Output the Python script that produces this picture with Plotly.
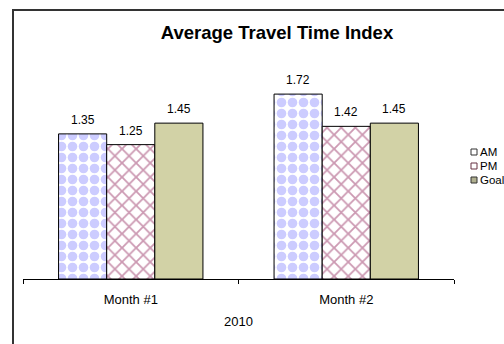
import plotly.graph_objects as go

categories = ["Month #1", "Month #2"]
am_values = [1.35, 1.72]
pm_values = [1.25, 1.42]
goal_values = [1.45, 1.45]
series_names = ["AM", "PM", "Goal"]
title_text = "Average Travel Time Index"
x_title = "2010"

W, H = 504, 344
ML, MR, MT, MB = 23, 50, 64, 65
pw = W - ML - MR
ph = H - MT - MB

FONT = "Liberation Sans, Arial, sans-serif"

series_values = [am_values, pm_values, goal_values]
markers = [
    dict(color="white", line=dict(color="black", width=1),
         pattern=dict(shape=".", fgcolor="#9999FF", bgcolor="white",
                      size=11, solidity=0.6, fillmode="overlay")),
    dict(color="white", line=dict(color="black", width=1),
         pattern=dict(shape="x", fgcolor="#993366", bgcolor="white",
                      size=10, solidity=0.33, fillmode="overlay")),
    dict(color="#D2D2A6", line=dict(color="black", width=1)),
]

fig = go.Figure()
for name, vals, mk in zip(series_names, series_values, markers):
    fig.add_trace(go.Bar(x=categories, y=vals, name=name, marker=mk, showlegend=False))

# data labels, placed through the axes above each bar
bar_px = pw / len(categories) * (1 - 0.33) / 3
for i, vals in enumerate(series_values):
    for cat, v in zip(categories, vals):
        fig.add_annotation(x=cat, y=v, text=f"{v:.2f}", showarrow=False,
                           xshift=(i - 1) * bar_px, yshift=14, yanchor="middle",
                           font=dict(family=FONT, size=12, color="black"))

# legend (drawn manually to match the compact Excel legend)
leg_y = [152, 166, 180]
leg_fill = ["white", "white", "#B0B090"]
leg_line = ["#333333", "#663344", "#333333"]
for name, yy, fc, lc in zip(series_names, leg_y, leg_fill, leg_line):
    fig.add_shape(type="rect", xref="paper", yref="paper",
                  x0=(471 - ML) / pw, x1=(477 - ML) / pw,
                  y0=(H - MB - yy - 3) / ph, y1=(H - MB - yy + 3) / ph,
                  line=dict(color=lc, width=1), fillcolor=fc)
    fig.add_annotation(xref="paper", yref="paper", x=(478 - ML) / pw, y=(H - MB - yy) / ph,
                       xanchor="left", yanchor="middle", text=name, showarrow=False,
                       font=dict(family=FONT, size=11.5, color="black"))

# outer chart border (extends past the right/bottom edges as in the reference)
fig.add_shape(type="rect", xref="paper", yref="paper",
              x0=(13 - ML) / pw, x1=(W + 40 - ML) / pw,
              y0=-(H + 40 - MT - ph) / ph, y1=(H - 10 - MB) / ph,
              line=dict(color="#333333", width=2), fillcolor="rgba(0,0,0,0)", layer="below")

fig.update_layout(
    width=W, height=H,
    margin=dict(l=ML, r=MR, t=MT, b=MB, autoexpand=False),
    paper_bgcolor="white", plot_bgcolor="white",
    barmode="group", bargap=0.33, bargroupgap=0,
    font=dict(family=FONT, size=12, color="black"),
    title=dict(text=title_text, x=277 / W, xanchor="center", xref="container",
               y=1 - 33 / H, yanchor="middle", yref="container",
               font=dict(family=FONT, size=18.5, color="black", weight="bold")),
    showlegend=False,
    xaxis=dict(showline=True, linecolor="black", linewidth=1, ticks="outside",
               tickson="boundaries", ticklen=4, tickcolor="black", showgrid=False,
               tickfont=dict(family=FONT, size=13, color="black"), ticklabelstandoff=8,
               title=dict(text=x_title, font=dict(family=FONT, size=13, color="black"), standoff=11)),
    yaxis=dict(visible=False, range=[0, 2]),
)

fig.write_html("out.html")
